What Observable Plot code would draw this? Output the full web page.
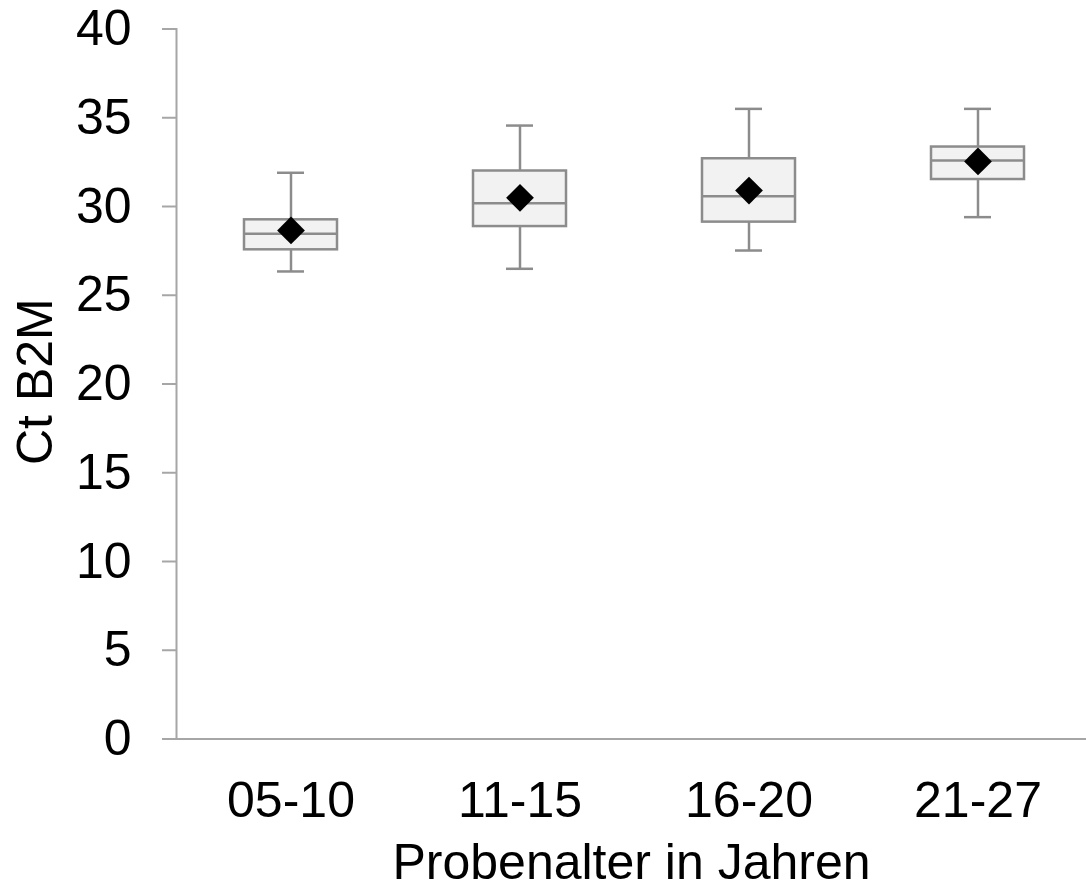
<!DOCTYPE html>
<html>
<head>
<meta charset="utf-8">
<script src="https://cdn.jsdelivr.net/npm/d3@7"></script>
<script src="https://cdn.jsdelivr.net/npm/@observablehq/plot@0.6"></script>
<style>
  html, body { margin: 0; padding: 0; background: #fff; overflow: hidden; }
</style>
</head>
<body>
<div id="chart"></div>
<script>
const categories = ["05-10", "11-15", "16-20", "21-27"];
const whiskerLow = [26.34, 26.49, 27.52, 29.40];
const q1 = [27.56, 28.87, 29.12, 31.52];
const median = [28.46, 30.19, 30.58, 32.59];
const q3 = [29.25, 32.0, 32.69, 33.35];
const whiskerHigh = [31.90, 34.56, 35.50, 35.50];
const mean = [28.65, 30.49, 30.90, 32.54];
const yTicks = [0, 5, 10, 15, 20, 25, 30, 35, 40];
const xTitle = "Probenalter in Jahren";
const yTitle = "Ct B2M";

const data = categories.map((c, i) => ({
  cat: c, lo: whiskerLow[i], q1: q1[i], med: median[i], q3: q3[i], hi: whiskerHigh[i], mean: mean[i]
}));

const boxStroke = "#8c8c8c";
const axisStroke = "#a6a6a6";
const fs = 50;

const chart = Plot.plot({
  width: 1086,
  height: 890,
  marginLeft: 176,
  marginRight: 0,
  marginTop: 28.5,
  marginBottom: 151.5,
  style: { fontFamily: "'Liberation Sans', Arial, sans-serif", color: "black", background: "white" },
  x: { domain: categories, range: [176, 1092], paddingInner: 0.594, paddingOuter: 0.297 },
  y: { domain: [0, 40] },
  marks: [
    Plot.axisY({ ticks: yTicks, tickSize: 14, tickPadding: 31, fontSize: fs, stroke: axisStroke, strokeWidth: 2, label: null, tickFormat: d => String(d) }),
    Plot.axisX({ tickSize: 0, tickPadding: 42, fontSize: fs, label: null }),
    Plot.frame({ anchor: "left", stroke: axisStroke, strokeWidth: 2 }),
    Plot.ruleY([0], { stroke: axisStroke, strokeWidth: 2, insetLeft: -14 }),
    Plot.ruleX(data, { x: "cat", y1: "lo", y2: "hi", stroke: boxStroke, strokeWidth: 2.5 }),
    Plot.tickY(data, { x: "cat", y: "hi", stroke: boxStroke, strokeWidth: 2.5, insetLeft: 33, insetRight: 33 }),
    Plot.tickY(data, { x: "cat", y: "lo", stroke: boxStroke, strokeWidth: 2.5, insetLeft: 33, insetRight: 33 }),
    Plot.barY(data, { x: "cat", y1: "q1", y2: "q3", fill: "#f2f2f2", stroke: boxStroke, strokeWidth: 2.5 }),
    Plot.tickY(data, { x: "cat", y: "med", stroke: boxStroke, strokeWidth: 2.5 }),
    Plot.dot(data, { x: "cat", y: "mean", symbol: "diamond2", r: 12.5, fill: "black", stroke: "none" }),
    Plot.text([xTitle], { frameAnchor: "bottom", dy: 124, fontSize: fs, fill: "black", lineAnchor: "middle" }),
    Plot.text([yTitle], { frameAnchor: "left", dx: -141, dy: 81, rotate: -90, fontSize: fs, fill: "black", lineAnchor: "middle" })
  ]
});

document.getElementById("chart").appendChild(chart);
</script>
</body>
</html>
